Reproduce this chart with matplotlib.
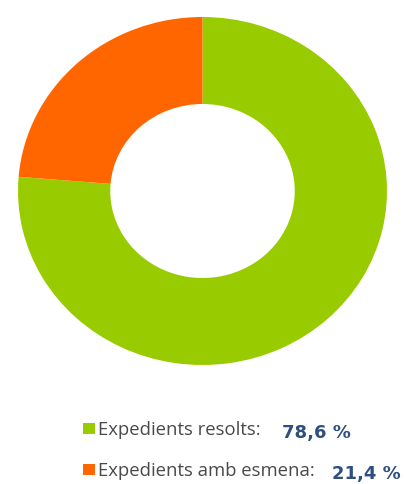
import matplotlib
matplotlib.use("Agg")
import matplotlib.pyplot as plt
from matplotlib.patches import Rectangle

categories = ["Expedients resolts:", "Expedients amb esmena:"]
# wedge shares as drawn in the picture
values = [76.3, 23.7]
value_labels = ["78,6 %", "21,4 %"]
colors = ["#99CC00", "#FF6600"]

W, H = 404, 484
fig = plt.figure(figsize=(W / 100, H / 100), dpi=100)
fig.patch.set_facecolor("white")

left, right, top, bottom = 18, 387, 17, 365
ax = fig.add_axes([left / W, (H - bottom) / H, (right - left) / W, (bottom - top) / H])
ax.pie(values, colors=colors, startangle=90, counterclock=False,
       radius=1.0, wedgeprops=dict(width=0.5, edgecolor="none"))
ax.set_xlim(-1, 1)
ax.set_ylim(-1, 1)
ax.set_aspect("auto")
ax.axis("off")

rows_y = [430, 471]
val_x = [282, 332]
for i, (cat, lab, col) in enumerate(zip(categories, value_labels, colors)):
    y = rows_y[i]
    fig.patches.append(Rectangle((83 / W, (H - y - 3.5) / H), 12 / W, 11 / H,
                                 transform=fig.transFigure, facecolor=col,
                                 edgecolor="none"))
    fig.text(98 / W, (H - y) / H, cat, fontsize=13.3, color="#4a4a4a",
             family="Open Sans", va="center", ha="left")
    fig.text(val_x[i] / W, (H - y - 3) / H, lab, fontsize=13, color="#2F4F7F",
             fontweight="bold", family="DejaVu Sans",
             va="center", ha="left")

fig.savefig("out.png", dpi=100, facecolor="white")
